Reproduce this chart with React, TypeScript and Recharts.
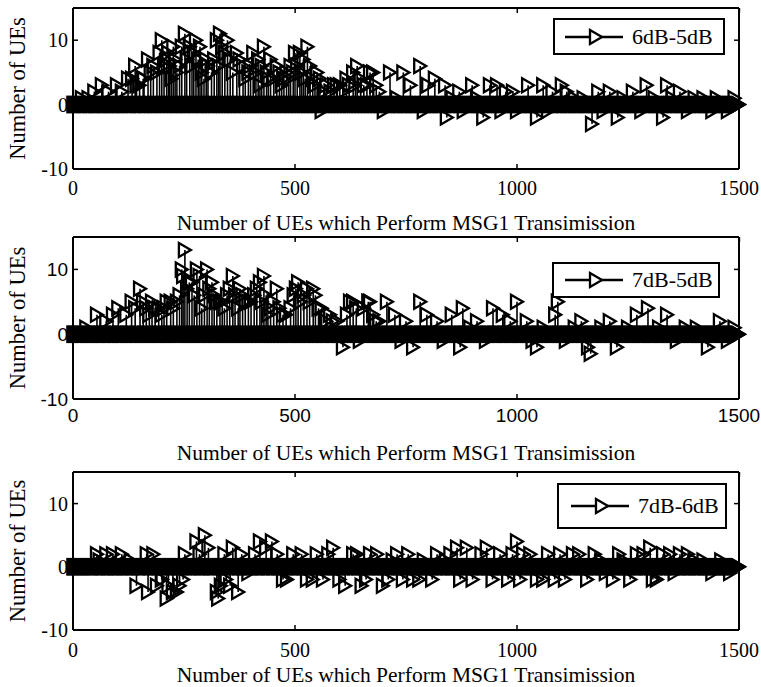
import React from 'react';
import { ComposedChart, Bar, Line, XAxis, YAxis } from 'recharts';

// ---------- data ----------
const UE_FIRST = 1;
const UE_LAST = 1500;
const xTicks = [0, 500, 1000, 1500];
const yTicks = [-10, 0, 10];
const X_DOMAIN: [number, number] = [0, 1500];
const Y_DOMAIN: [number, number] = [-10, 15];

const seriesNames = ['6dB-5dB', '7dB-5dB', '7dB-6dB'];
const xAxisTitle = 'Number of UEs which Perform MSG1 Transimission';
const yAxisTitle = 'Number of UEs';

// non-zero stems [x, value]; every other x in 1..1500 is 0
const diff6dB5dB: [number, number][] = [
  [20, 1], [35, 1], [48, 2], [65, 3], [80, 2], [99, 3], [110, 2], [124, 4], [133, 4], [140, 6],
  [143, 3], [150, 3], [158, 4], [160, 4], [169, 7], [175, 5], [181, 6], [189, 5], [195, 8], [200, 10],
  [205, 6], [211, 7], [215, 8], [218, 6], [222, 4], [226, 9], [230, 7], [234, 5], [240, 6], [245, 9],
  [252, 11], [256, 7], [263, 9], [268, 6], [272, 8], [277, 10], [282, 7], [286, 9], [290, 5], [295, 4],
  [300, 7], [304, 6], [312, 5], [318, 7], [324, 10], [328, 6], [331, 11], [336, 9], [342, 8], [348, 10],
  [354, 7], [360, 5], [369, 8], [375, 7], [383, 6], [388, 4], [395, 5], [400, 6], [406, 8], [412, 5],
  [417, 7], [421, 3], [425, 6], [430, 9], [436, 5], [440, 4], [445, 7], [452, 4], [459, 6], [465, 5],
  [470, 3], [475, 4], [481, 5], [486, 4], [490, 6], [496, 5], [500, 8], [505, 6], [511, 8], [515, 5],
  [519, 7], [523, 4], [528, 9], [534, 6], [540, 4], [545, 3], [550, 5], [556, 4], [560, -1], [565, 2],
  [571, 3], [580, 2], [588, 3], [594, 3], [601, 3], [608, 2], [616, 4], [622, 3], [631, 5], [636, 3],
  [640, 6], [648, 4], [655, 3], [662, 3], [669, 5], [676, 5], [683, 3], [690, 2], [700, -1], [714, 5],
  [730, 1], [744, 5], [760, 3], [782, 6], [790, -1], [800, 3], [815, 4], [838, 3], [842, -2], [855, 1],
  [870, 2], [880, -1], [899, 3], [910, 1], [924, -2], [939, 3], [955, 3], [965, -1], [975, 2], [991, 2],
  [1000, -1], [1025, 3], [1045, -2], [1059, 3], [1070, -1], [1080, 2], [1101, 3], [1112, 2], [1130, 1], [1150, 1],
  [1169, -3], [1183, 2], [1195, -1], [1209, 2], [1227, -2], [1240, 1], [1261, 2], [1280, -1], [1292, 3], [1310, 1],
  [1329, -2], [1338, 3], [1350, 1], [1367, 2], [1385, -1], [1400, 1], [1420, 1], [1440, -1], [1450, 1], [1475, -1],
  [1490, 1],
];

const diff7dB5dB: [number, number][] = [
  [30, 1], [54, 3], [75, 2], [90, 3], [102, 4], [120, 3], [132, 5], [140, 4], [151, 7], [158, 5],
  [165, 4], [172, 3], [178, 5], [185, 4], [193, 4], [200, 3], [205, 4], [211, 5], [220, 5], [226, 4],
  [234, 5], [240, 6], [245, 10], [248, 9], [252, 13], [257, 7], [262, 8], [268, 8], [273, 6], [279, 10],
  [285, 9], [290, 4], [296, 6], [302, 10], [307, 7], [313, 8], [318, 6], [324, 5], [331, 5], [336, 5],
  [341, 4], [347, 6], [353, 7], [360, 9], [365, 6], [372, 4], [376, 7], [382, 6], [388, 5], [395, 5],
  [401, 5], [408, 6], [414, 7], [421, 8], [425, 5], [430, 9], [435, 6], [439, 3], [445, 4], [452, 5],
  [459, 7], [465, 4], [473, 3], [480, 3], [490, 4], [497, 6], [502, 7], [507, 8], [513, 5], [520, 6],
  [527, 7], [533, 5], [541, 7], [546, 6], [553, 4], [560, 4], [570, 2], [579, 3], [585, 2], [595, 2],
  [608, -2], [617, 3], [624, 5], [631, 5], [638, 4], [646, -1], [655, 4], [665, 5], [669, 5], [676, 3],
  [683, 2], [690, 2], [707, 5], [725, 3], [740, -1], [750, 2], [766, -2], [782, 5], [797, 3], [820, 2],
  [835, -1], [853, 3], [872, -2], [878, 4], [895, 1], [910, 2], [930, -1], [946, 4], [968, 3], [985, 2],
  [1000, 5], [1022, 2], [1035, -1], [1045, -2], [1060, 1], [1086, 3], [1092, 5], [1110, -1], [1130, 1], [1145, 2],
  [1160, -2], [1166, -3], [1190, 1], [1209, 2], [1225, -2], [1250, 1], [1270, 3], [1295, 4], [1320, 1], [1338, 3],
  [1360, -1], [1380, 1], [1405, 1], [1430, -2], [1457, 2], [1475, -1], [1490, 1],
];

const diff7dB6dB: [number, number][] = [
  [54, 2], [60, 1], [75, 2], [90, 2], [110, 2], [130, 1], [143, -3], [166, 2], [169, -4], [181, 2],
  [189, -3], [200, -2], [211, -5], [215, -3], [225, -4], [234, -4], [240, -3], [248, -2], [252, 2], [278, 4],
  [285, 2], [297, 5], [305, 3], [324, -4], [327, -5], [333, -3], [341, 2], [345, -2], [354, -3], [360, 3],
  [372, -4], [380, 2], [395, -1], [410, 2], [421, 4], [435, 3], [448, 4], [460, 2], [473, -2], [482, -2],
  [496, 2], [515, 2], [527, -2], [540, -2], [549, 2], [563, -2], [575, 2], [586, 3], [600, -2], [613, -3],
  [631, 2], [640, 2], [650, -3], [660, -2], [669, 2], [685, 2], [698, -3], [710, -2], [720, 1], [730, 2],
  [743, -2], [755, 2], [766, -2], [780, -2], [790, 1], [809, -2], [820, 2], [840, 1], [850, 2], [865, 3],
  [872, -2], [887, 3], [900, -2], [920, 2], [932, 3], [945, -2], [962, 2], [980, -2], [990, 2], [1000, 4],
  [1007, -2], [1014, 2], [1030, 2], [1045, -2], [1059, -2], [1070, 2], [1085, -2], [1097, 2], [1108, -2], [1126, 2],
  [1140, 2], [1158, -2], [1175, 2], [1190, 1], [1200, -1], [1216, -2], [1230, 2], [1240, 1], [1255, -2], [1270, 2],
  [1285, 2], [1300, 3], [1306, -2], [1315, -2], [1329, 2], [1345, 2], [1355, -1], [1367, 2], [1385, 2], [1400, 1],
  [1420, 1], [1440, -1], [1460, 1], [1480, -1],
];

// ---------- helpers ----------
type Row = { x: number; v: number };
function toRows(points: [number, number][]): Row[] {
  const byX = new Map<number, number>(points);
  const rows: Row[] = [];
  for (let x = UE_FIRST; x <= UE_LAST; x++) rows.push({ x, v: byX.get(x) ?? 0 });
  return rows;
}

const SERIF = '"Liberation Serif", "Times New Roman", serif';
const SANS = '"Liberation Sans", Arial, sans-serif';
const W = 761;

const triPath = (cx: number, cy: number) =>
  `M${cx - 6},${cy - 7}L${cx + 6},${cy}L${cx - 6},${cy + 7}Z`;

const renderTriangle = (p: any) => {
  const { cx, cy, index } = p;
  if (cx == null || cy == null || !isFinite(cx) || !isFinite(cy)) return <g key={`t-${index}`} />;
  return <path key={`t-${index}`} d={triPath(cx, cy)} fill="none" stroke="#000" strokeWidth={2.3} />;
};

const renderStem = (p: any) => {
  const { x, y, width, height } = p;
  if (!height || !isFinite(height) || !isFinite(x)) return <g />;
  const cx = x + (width || 0) / 2;
  return <line x1={cx} x2={cx} y1={y} y2={y + height} stroke="#000" strokeWidth={1.6} />;
};

const makeXTitle = (dy: number) => (props: any) => {
  const vb = props.viewBox || {};
  return (
    <text x={vb.x + vb.width / 2} y={vb.y + dy} textAnchor="middle" fontFamily={SERIF} fontSize={21.5} fill="#000">
      {xAxisTitle}
    </text>
  );
};

const renderYTitle = (props: any) => {
  const vb = props.viewBox || {};
  const x = vb.x + 25;
  const y = vb.y + vb.height / 2;
  return (
    <text x={x} y={y} transform={`rotate(-90 ${x} ${y})`} textAnchor="middle" fontFamily={SERIF} fontSize={22.5} fill="#000">
      {yAxisTitle}
    </text>
  );
};

const panels = [
  {
    name: seriesNames[0], points: diff6dB5dB, top: 0, plotH: 161, xAxisH: 66, xTitleDy: 61,
    tickFont: SERIF, tickFontSize: 20, xTickMargin: 17,
    legend: { left: 553, top: 18, width: 172, height: 37, padLeft: 10, gap: 9 },
  },
  {
    name: seriesNames[1], points: diff7dB5dB, top: 229, plotH: 162, xAxisH: 66, xTitleDy: 61,
    tickFont: SANS, tickFontSize: 19, xTickMargin: 15,
    legend: { left: 552, top: 262, width: 168, height: 36, padLeft: 11, gap: 9 },
  },
  {
    name: seriesNames[2], points: diff7dB6dB, top: 464, plotH: 158, xAxisH: 57, xTitleDy: 52,
    tickFont: SERIF, tickFontSize: 20, xTickMargin: 18,
    legend: { left: 557, top: 483, width: 170, height: 46, padLeft: 12, gap: 9 },
  },
];

const axisLine = { stroke: '#000', strokeWidth: 2 };
const tickLine = { stroke: '#000', strokeWidth: 1.5 };
const blank = () => '';

function Panel({ cfg }: { cfg: (typeof panels)[number] }) {
  const rows = React.useMemo(() => toRows(cfg.points), [cfg.points]);
  const height = 7 + 1 + cfg.plotH + cfg.xAxisH;
  const tickStyle = { fill: '#000', fontSize: cfg.tickFontSize, fontFamily: cfg.tickFont };
  return (
    <div style={{ position: 'absolute', left: 0, top: cfg.top }}>
      <ComposedChart width={W} height={height} data={rows} margin={{ top: 7, right: 21, bottom: 0, left: 0 }}>
        <XAxis
          dataKey="x" type="number" domain={X_DOMAIN} ticks={xTicks} interval={0}
          height={cfg.xAxisH} tickSize={-5} tickMargin={cfg.xTickMargin}
          axisLine={axisLine} tickLine={tickLine} tick={tickStyle}
          label={makeXTitle(cfg.xTitleDy)}
        />
        <XAxis
          xAxisId="top" orientation="top" type="number" domain={X_DOMAIN} ticks={xTicks} interval={0}
          allowDataOverflow height={1} tickSize={-5} tickFormatter={blank}
          axisLine={axisLine} tickLine={tickLine}
        />
        <YAxis
          type="number" domain={Y_DOMAIN} ticks={yTicks} interval={0} width={73}
          tickSize={-5} tickMargin={10} axisLine={axisLine} tickLine={tickLine} tick={tickStyle}
          label={renderYTitle}
        />
        <YAxis
          yAxisId="right" orientation="right" type="number" domain={Y_DOMAIN} ticks={yTicks} interval={0}
          allowDataOverflow width={1} tickSize={-5} tickFormatter={blank}
          axisLine={axisLine} tickLine={tickLine}
        />
        <Bar dataKey="v" shape={renderStem} isAnimationActive={false} />
        <Line dataKey="v" stroke="none" dot={renderTriangle} activeDot={false} isAnimationActive={false} />
      </ComposedChart>
    </div>
  );
}

function LegendBox({ cfg }: { cfg: (typeof panels)[number] }) {
  const l = cfg.legend;
  return (
    <div
      style={{
        position: 'absolute', left: l.left, top: l.top, width: l.width, height: l.height,
        boxSizing: 'border-box', border: '2px solid #000', background: '#fff',
        display: 'flex', alignItems: 'center', paddingLeft: l.padLeft, zIndex: 5,
      }}
    >
      <svg width={58} height={20} style={{ display: 'block', flex: 'none' }}>
        <line x1={0} x2={58} y1={10} y2={10} stroke="#000" strokeWidth={2.5} />
        <path d={triPath(31, 10)} fill="#fff" stroke="#000" strokeWidth={2.3} />
      </svg>
      <span style={{ marginLeft: l.gap, fontFamily: SERIF, fontSize: 22, color: '#000', whiteSpace: 'nowrap' }}>
        {cfg.name}
      </span>
    </div>
  );
}

export default function App() {
  return (
    <div style={{ position: 'absolute', left: 0, top: 0, width: W, height: 687, background: '#fff', overflow: 'hidden' }}>
      {panels.map((p) => (
        <Panel key={p.name} cfg={p} />
      ))}
      {panels.map((p) => (
        <LegendBox key={`lg-${p.name}`} cfg={p} />
      ))}
    </div>
  );
}
